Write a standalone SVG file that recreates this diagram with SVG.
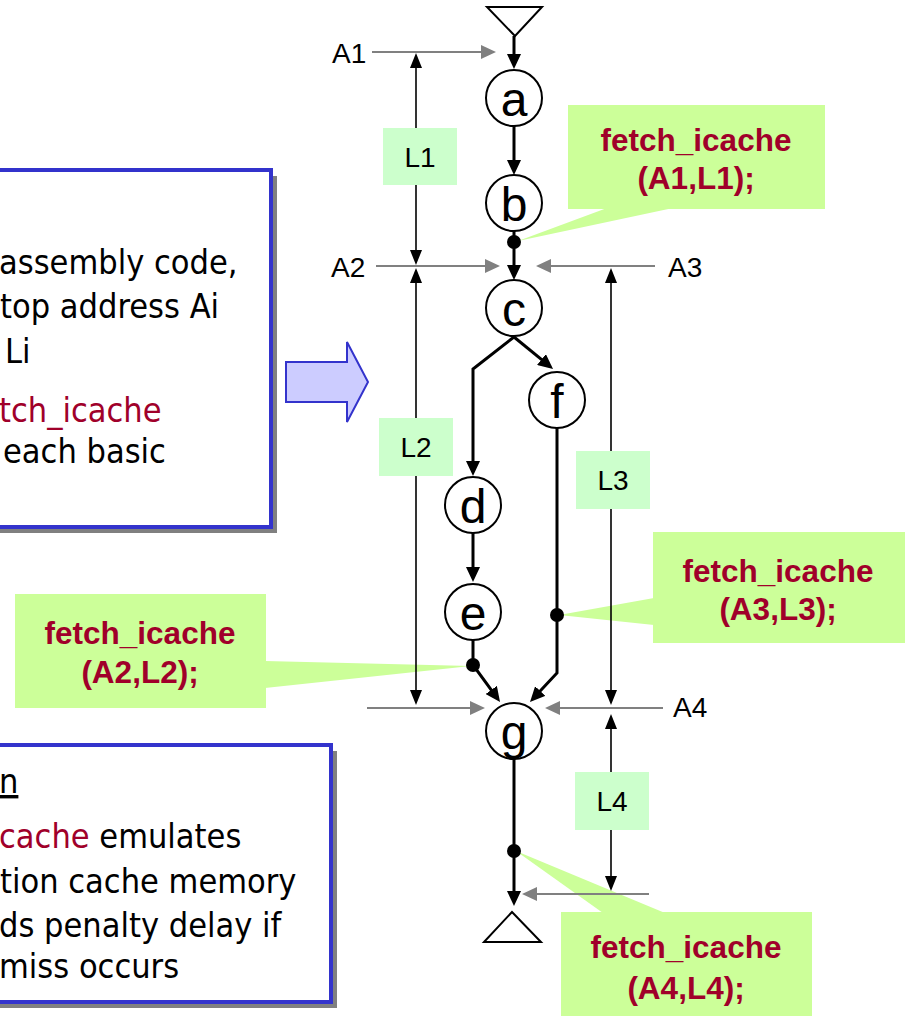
<svg xmlns="http://www.w3.org/2000/svg" width="905" height="1016" viewBox="0 0 905 1016">
  <style>
    .node circle { fill: #ffffff; stroke: #000000; stroke-width: 2; }
    .node text { font-family: "Liberation Sans", Arial, sans-serif; font-size: 48px; fill: #000000; text-anchor: middle; }
    .term { fill: #ffffff; stroke: #000000; stroke-width: 2; }
    .flow { fill: none; stroke: #000000; stroke-width: 3; marker-end: url(#arrowMain); }
    .addr { fill: none; stroke: #808080; stroke-width: 2; marker-end: url(#arrowGray); }
    .dim { fill: none; stroke: #000000; stroke-width: 1.6; marker-start: url(#arrowDim); marker-end: url(#arrowDim); }
    .dot { fill: #000000; }
    .lbox { fill: #ccffcc; }
    .lbox-text { font-family: "Liberation Sans", Arial, sans-serif; font-size: 28px; fill: #000000; text-anchor: middle; }
    .alabel { font-family: "Liberation Sans", Arial, sans-serif; font-size: 28px; fill: #000000; }
    .callout { fill: #ccff99; }
    .callout-text { font-family: "Liberation Sans", Arial, sans-serif; font-size: 31.5px; font-weight: bold; fill: #a0002a; text-anchor: middle; }
    .panel { fill: #ffffff; stroke: #3333cc; stroke-width: 4; }
    .panel-shadow { fill: #808080; }
    .panel-text { font-family: "DejaVu Sans Condensed", "DejaVu Sans", sans-serif; font-stretch: condensed; font-size: 34px; fill: #000000; }
    .red { fill: #a0002a; }
  </style>
  <defs>
    <marker id="arrowMain" markerUnits="userSpaceOnUse" markerWidth="16" markerHeight="14" refX="9" refY="7" orient="auto">
      <path d="M0,0 L15,7 L0,14 z" fill="#000000"/>
    </marker>
    <marker id="arrowDim" markerUnits="userSpaceOnUse" markerWidth="16" markerHeight="12" refX="9" refY="6" orient="auto-start-reverse">
      <path d="M0,0 L15,6 L0,12 z" fill="#000000"/>
    </marker>
    <marker id="arrowGray" markerUnits="userSpaceOnUse" markerWidth="16" markerHeight="14" refX="9" refY="7" orient="auto">
      <path d="M0,0 L15,7 L0,14 z" fill="#808080"/>
    </marker>
  </defs>

  <!-- text panel: code instrumentation steps -->
  <g id="panel-top">
    <rect class="panel-shadow" x="-4" y="176" width="281" height="357"/>
    <rect class="panel" x="-10" y="170" width="281" height="357"/>
    <text class="panel-text" x="-1" y="274">assembly code,</text>
    <text class="panel-text" x="0" y="318">top address Ai</text>
    <text class="panel-text" x="5" y="363">Li</text>
    <text class="panel-text red" x="-1" y="422">tch_icache</text>
    <text class="panel-text" x="3" y="463">each basic</text>
  </g>

  <!-- text panel: cache emulation -->
  <g id="panel-bottom">
    <rect class="panel-shadow" x="-4" y="751" width="341" height="257"/>
    <rect class="panel" x="-10" y="745" width="341" height="257"/>
    <text class="panel-text" x="-1" y="793" text-decoration="underline">n</text>
    <text class="panel-text" x="-1" y="848"><tspan class="red">cache</tspan> emulates</text>
    <text class="panel-text" x="0" y="893">tion cache memory</text>
    <text class="panel-text" x="-1" y="937">ds penalty delay if</text>
    <text class="panel-text" x="-1" y="978">miss occurs</text>
  </g>

  <!-- block arrow between panel and graph -->
  <g id="block-arrow">
    <polygon points="286,362 347,362 347,342 368,382 347,422 347,402 286,402" fill="#ccccff" stroke="#3333cc" stroke-width="2"/>
  </g>

  <!-- callouts -->
  <g id="callout-a1">
    <polygon class="callout" points="607,208 673,208 518,241"/>
    <rect class="callout" x="568" y="105" width="257" height="104"/>
    <text class="callout-text" x="696" y="151">fetch_icache</text>
    <text class="callout-text" x="696" y="189">(A1,L1);</text>
  </g>
  <g id="callout-a3">
    <polygon class="callout" points="654,598 654,625 559,615"/>
    <rect class="callout" x="653" y="532" width="252" height="111"/>
    <text class="callout-text" x="778" y="582">fetch_icache</text>
    <text class="callout-text" x="778" y="620">(A3,L3);</text>
  </g>
  <g id="callout-a2">
    <polygon class="callout" points="265,661 265,688 471,666"/>
    <rect class="callout" x="15" y="594" width="251" height="114"/>
    <text class="callout-text" x="140" y="644">fetch_icache</text>
    <text class="callout-text" x="140" y="683">(A2,L2);</text>
  </g>
  <g id="callout-a4">
    <polygon class="callout" points="603,913 665,913 516,851"/>
    <rect class="callout" x="561" y="912" width="251" height="104"/>
    <text class="callout-text" x="686" y="958">fetch_icache</text>
    <text class="callout-text" x="686" y="999">(A4,L4);</text>
  </g>

  <!-- connectors -->
  <g id="connectors">
    <!-- control flow -->
    <line class="flow" x1="514" y1="36" x2="514" y2="63"/>
    <line class="flow" x1="514" y1="126" x2="514" y2="169"/>
    <line class="flow" x1="514" y1="231" x2="514" y2="274"/>
    <path class="flow" d="M514,337 L548.4,365.2"/>
    <path class="flow" d="M514,337 L473,369 L473,470"/>
    <line class="flow" x1="473" y1="533" x2="473" y2="576"/>
    <path class="flow" d="M473,640 L473,665 L496.5,697.2"/>
    <path class="flow" d="M557,428 L557,673 L534.1,697.6"/>
    <line class="flow" x1="514" y1="759" x2="514" y2="900"/>
    <!-- instrumentation points -->
    <circle class="dot" cx="514" cy="242" r="7"/>
    <circle class="dot" cx="473" cy="665" r="7"/>
    <circle class="dot" cx="557" cy="615" r="7"/>
    <circle class="dot" cx="514" cy="851" r="7"/>
    <!-- block address pointers -->
    <line class="addr" x1="372" y1="52" x2="490" y2="52"/>
    <line class="addr" x1="376" y1="266" x2="494" y2="266"/>
    <line class="addr" x1="655" y1="266" x2="542" y2="266"/>
    <line class="addr" x1="367" y1="708" x2="479" y2="708"/>
    <line class="addr" x1="663" y1="708" x2="551" y2="708"/>
    <line class="addr" x1="649" y1="894" x2="528" y2="894"/>
    <!-- block length spans -->
    <line class="dim" x1="416" y1="59" x2="416" y2="259"/>
    <line class="dim" x1="416" y1="274" x2="416" y2="699"/>
    <line class="dim" x1="611" y1="274" x2="611" y2="699"/>
    <line class="dim" x1="611" y1="720" x2="611" y2="885"/>
  </g>

  <!-- entry / exit terminals -->
  <g id="entry">
    <polygon class="term" points="487,7 542,7 515,36"/>
  </g>
  <g id="exit">
    <polygon class="term" points="484,942 541,942 512,912"/>
  </g>

  <!-- basic blocks -->
  <g id="node-a" class="node"><circle cx="514" cy="98" r="28"/><text x="514" y="116">a</text></g>
  <g id="node-b" class="node"><circle cx="514" cy="203" r="28"/><text x="514" y="221">b</text></g>
  <g id="node-c" class="node"><circle cx="514" cy="308" r="28"/><text x="514" y="326">c</text></g>
  <g id="node-f" class="node"><circle cx="557" cy="400" r="28"/><text x="557" y="418">f</text></g>
  <g id="node-d" class="node"><circle cx="473" cy="505" r="28"/><text x="473" y="523">d</text></g>
  <g id="node-e" class="node"><circle cx="473" cy="612" r="28"/><text x="473" y="630">e</text></g>
  <g id="node-g" class="node"><circle cx="514" cy="731" r="28"/><text x="514" y="749">g</text></g>

  <!-- length labels -->
  <g id="label-l1"><rect class="lbox" x="383" y="128" width="74" height="57"/><text class="lbox-text" x="420" y="167">L1</text></g>
  <g id="label-l2"><rect class="lbox" x="379" y="418" width="74" height="58"/><text class="lbox-text" x="416" y="457">L2</text></g>
  <g id="label-l3"><rect class="lbox" x="576" y="451" width="74" height="58"/><text class="lbox-text" x="613" y="490">L3</text></g>
  <g id="label-l4"><rect class="lbox" x="575" y="772" width="74" height="58"/><text class="lbox-text" x="612" y="811">L4</text></g>

  <!-- address labels -->
  <g id="label-a1"><text class="alabel" x="332" y="63">A1</text></g>
  <g id="label-a2"><text class="alabel" x="331" y="277">A2</text></g>
  <g id="label-a3"><text class="alabel" x="668" y="277">A3</text></g>
  <g id="label-a4"><text class="alabel" x="673" y="717">A4</text></g>
</svg>
